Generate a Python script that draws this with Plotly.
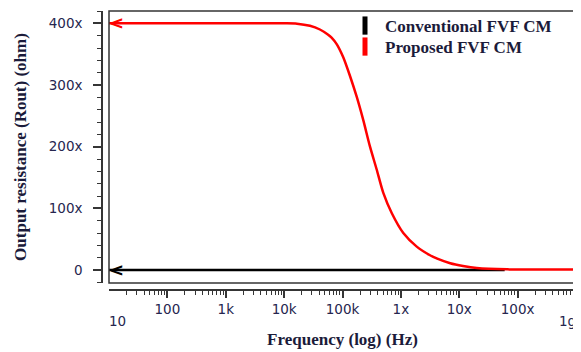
import plotly.graph_objects as go
import math

# ---- data ----
freq_proposed = [10, 1e3, 1e4, 16.6e3, 27.7e3, 41e3, 56e3, 65e3, 80e3, 103e3, 134e3, 175e3,
                 227e3, 296e3, 385e3, 500e3, 700e3, 1.1e6, 1.87e6, 3.16e6,
                 4.2e6, 7e6, 11.6e6, 20e6, 66e6, 1e9]
rout_proposed = [400e3, 400e3, 400e3, 399.5e3, 396e3, 390e3, 382e3, 377e3, 366e3, 345e3, 315e3, 281e3,
                 243e3, 200e3, 163e3, 125e3, 92e3, 60e3, 38e3, 24e3,
                 18.5e3, 11e3, 6.5e3, 3.2e3, 1.1e3, 0.8e3]
freq_conventional = [10, 60e6]
rout_conventional = [0, 0]

x_tick_vals = [10, 100, 1e3, 1e4, 1e5, 1e6, 1e7, 1e8, 1e9]
x_tick_text = ["10", "100", "1k", "10k", "100k", "1x", "10x", "100x", "1g"]
y_tick_vals = [0, 100e3, 200e3, 300e3, 400e3]
y_tick_text = ["0", "100x", "200x", "300x", "400x"]

series_names = ["Conventional FVF CM", "Proposed FVF CM"]
series_colors = ["#000000", "#ff0000"]

# ---- layout constants (page body has an 8px margin) ----
W, H = 573, 344
ML, MR, MT, MB = 94, 5, 3, 62
GAP = 7
pw = W - ML - MR
ph = H - MT - MB

TICK_FONT = dict(family="DejaVu Sans", size=13.5, color="#26264f")
TITLE_FONT = dict(family="Liberation Serif", size=17, color="#1b1b3a")
AX_COL = "#353535"

fig = go.Figure()

fig.add_trace(go.Scatter(x=freq_conventional, y=rout_conventional, mode="lines",
                         line=dict(color=series_colors[0], width=2.5), showlegend=False))
fig.add_trace(go.Scatter(x=freq_proposed, y=rout_proposed, mode="lines",
                         line=dict(color=series_colors[1], width=2.5, shape="spline", smoothing=0.7),
                         showlegend=False))

# legend entries (rectangular swatches), one legend per row
legend_ids = ["legend", "legend2"]
for name, col, lid in zip(series_names, series_colors, legend_ids):
    fig.add_trace(go.Scatter(x=[None], y=[None], mode="markers", name="<b>" + name + "</b>",
                             legend=lid,
                             marker=dict(symbol="line-ns-open", size=13, color=col,
                                         line=dict(color=col, width=5))))

# chevron arrows at the left end of each curve
for xs, ys, col in [(freq_conventional, rout_conventional, series_colors[0]),
                    (freq_proposed, rout_proposed, series_colors[1])]:
    fig.add_annotation(x=math.log10(xs[0]), y=ys[0], xref="x", yref="y", text="<b>&lt;</b>",
                       showarrow=False, xanchor="left", yanchor="middle", xshift=-2, yshift=1,
                       font=dict(family="DejaVu Sans", size=18, color=col))

minor_vals = [m * 10 ** d for d in range(1, 9) for m in range(2, 10)]

fig.update_xaxes(type="log", range=[1, 9], domain=[GAP / pw, 1], anchor="free", position=0,
                 showline=True, linecolor=AX_COL, linewidth=1.5, showgrid=False, zeroline=False,
                 tickmode="array", tickvals=x_tick_vals[1:-1], ticktext=x_tick_text[1:-1],
                 ticks="outside", ticklen=7, tickwidth=1.5, tickcolor=AX_COL,
                 tickfont=TICK_FONT,
                 minor=dict(tickmode="array", tickvals=minor_vals, ticks="outside", ticklen=4,
                            tickwidth=1, tickcolor=AX_COL, showgrid=False),
                 title=dict(text="<b>Frequency (log) (Hz)</b>", font=TITLE_FONT, standoff=16))

fig.update_yaxes(range=[-21000, 420000], domain=[GAP / ph, 1], anchor="free", position=0,
                 showline=True, linecolor=AX_COL, linewidth=1.5, showgrid=False, zeroline=False,
                 tickmode="array", tickvals=y_tick_vals, ticktext=y_tick_text,
                 ticks="outside", ticklen=8, tickwidth=1.5, tickcolor=AX_COL,
                 tickfont=TICK_FONT, ticklabelstandoff=8,
                 minor=dict(dtick=20000, ticks="outside", ticklen=4, tickwidth=1,
                            tickcolor=AX_COL, showgrid=False),
                 title=dict(text="<b>Output resistance (Rout) (ohm)</b>", font=TITLE_FONT, standoff=17))

# first and last x tick labels sit lower
for v, t, sh in [(x_tick_vals[0], x_tick_text[0], 8), (x_tick_vals[-1], x_tick_text[-1], -9)]:
    fig.add_annotation(x=math.log10(v), y=-31 / ph, xref="x", yref="paper", text=t,
                       showarrow=False, xanchor="center", yanchor="middle", xshift=sh,
                       font=TICK_FONT)

# plot frame
fig.add_shape(type="rect", xref="x domain", yref="y domain", x0=0, x1=1, y0=0, y1=1,
              line=dict(color=AX_COL, width=1.5), layer="above")

LEG_FONT = dict(family="Liberation Serif", size=17, color="#1b1b3a")
leg_x = (337 - ML) / pw
fig.update_layout(
    width=W, height=H, margin=dict(l=ML, r=MR, t=MT, b=MB, autoexpand=False),
    paper_bgcolor="white", plot_bgcolor="white",
    legend=dict(x=leg_x, y=1 + 3 / ph, xanchor="left", yanchor="top",
                bgcolor="rgba(0,0,0,0)", font=LEG_FONT),
    legend2=dict(x=leg_x, y=1 - 18 / ph, xanchor="left", yanchor="top",
                 bgcolor="rgba(0,0,0,0)", font=LEG_FONT),
    showlegend=True,
)

fig.write_html("out.html")
